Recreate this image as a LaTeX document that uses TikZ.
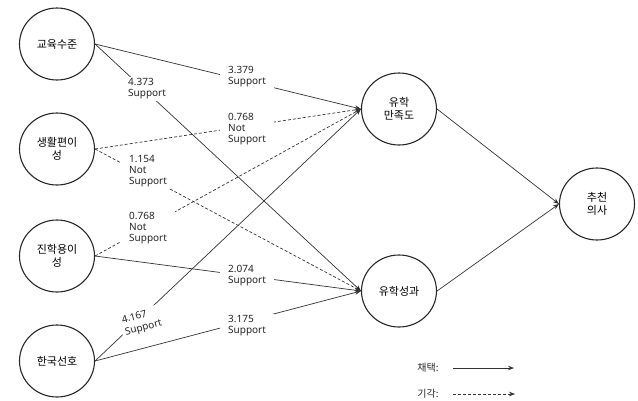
\documentclass[tikz,border=0pt]{standalone}
\usepackage{fontspec}
\setmainfont{Noto Sans}
\newfontfamily\kr{Noto Sans CJK KR}
\usetikzlibrary{shapes.geometric,arrows.meta}
\begin{document}
\begin{tikzpicture}[x=1pt,y=-1pt,
  construct/.style={ellipse,draw=black!85,line width=1.1pt,minimum width=75pt,minimum height=72pt,
    inner sep=0pt,align=center,font=\kr\fontsize{11}{13}\selectfont},
  path/.style={draw=black!80,line width=0.7pt,-{Stealth[length=6pt,width=4.5pt]}},
  reject/.style={path,dash pattern=on 3pt off 2pt},
  coef/.style={fill=white,inner xsep=8pt,inner ysep=2pt,anchor=west,align=left,
    text=black!85,font=\fontsize{10}{11}\selectfont},
  legend/.style={font=\kr\fontsize{10}{12}\selectfont,text=black!85}]
\useasboundingbox (0,0) rectangle (638,400);

% latent constructs
\node[construct] (edu)  at (57,44)  {교육수준};
\node[construct] (life) at (57,149) {생활편이\\성};
\node[construct] (adm)  at (57,256) {진학용이\\성};
\node[construct] (kor)  at (57,361) {한국선호};
\node[construct] (sat)  at (399,109) {유학\\만족도};
\node[construct] (out)  at (399,291) {유학성과};
\node[construct] (rec)  at (597,204) {추천\\의사};

% structural paths
\draw[path]   (edu.east)  -- (sat.west);
\draw[path]   (edu.east)  -- (out.west);
\draw[reject] (life.east) -- (sat.west);
\draw[reject] (life.east) -- (out.west);
\draw[reject] (adm.east)  -- (sat.west);
\draw[path]   (adm.east)  -- (out.west);
\draw[path]   (kor.east)  -- (sat.west);
\draw[path]   (kor.east)  -- (out.west);
\draw[path]   (sat.east)  -- (rec.west);
\draw[path]   (out.east)  -- (rec.west);

% path coefficients
\node[coef] (c1) at (220,77)    {3.379\\Support};
\node[coef] (c2) at (120,89)    {4.373\\Support};
\node[coef] (c3) at (220,129.5) {0.768\\Not\\Support};
\node[coef] (c4) at (121,171)   {1.154\\Not\\Support};
\node[coef] (c5) at (121,228)   {0.768\\Not\\Support};
\node[coef] (c6) at (220,276)   {2.074\\Support};
\node[coef,anchor=center,rotate=15,inner xsep=3pt,font=\fontsize{10}{12.5}\selectfont] (c7) at (142,322) {4.167\\Support};
\node[coef] (c8) at (220,326)   {3.175\\Support};

% legend
\node[legend] (acc) at (428,368) {채택:};
\node[legend] (rej) at (428,394) {기각:};
\coordinate (acc0) at (453,368);
\coordinate (acc1) at (514,368);
\coordinate (rej0) at (453,394);
\coordinate (rej1) at (515,394);
\draw[path]   (acc0) -- (acc1);
\draw[reject] (rej0) -- (rej1);
\end{tikzpicture}
\end{document}
